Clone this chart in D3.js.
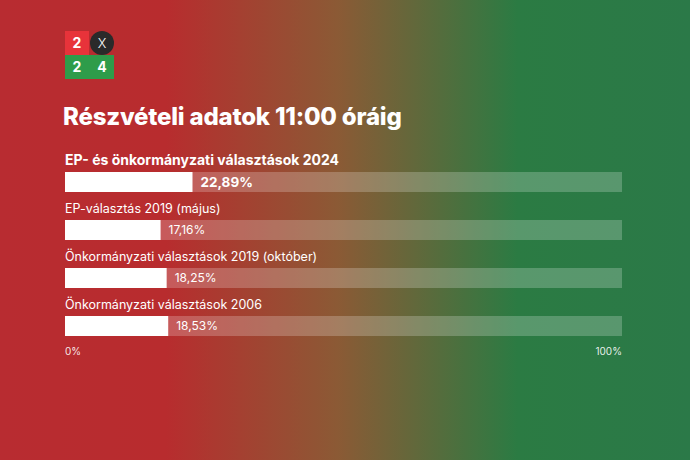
<!DOCTYPE html>
<html>
<head>
<meta charset="utf-8">
<script src="https://cdn.jsdelivr.net/npm/d3@7"></script>
<style>
  html, body { margin: 0; padding: 0; }
  body { width: 690px; height: 460px; overflow: hidden; }
  svg text { font-family: Inter, "Noto Sans", sans-serif; fill: #fff; }
</style>
</head>
<body>
<div id="container"></div>
<script>
// data
var categories = [
  "EP- és önkormányzati választások 2024",
  "EP-választás 2019 (május)",
  "Önkormányzati választások 2019 (október)",
  "Önkormányzati választások 2006"
];
var values = [22.89, 17.16, 18.25, 18.53];
var value_labels = ["22,89%", "17,16%", "18,25%", "18,53%"];
var tick_values = [0, 100];
var tick_labels = ["0%", "100%"];
var title = "Részvételi adatok 11:00 óráig";

var width = 690, height = 460;
var bar_left = 65, bar_right = 622;
var first_bar_y = 172, bar_step = 48, bar_h = 20;

var svg = d3.select("div#container")
  .append("svg")
  .attr("width", width)
  .attr("height", height);

// background gradient red -> green
var defs = svg.append("defs");
var grad = defs.append("linearGradient")
  .attr("id", "bg")
  .attr("x1", "0%").attr("x2", "100%")
  .attr("y1", "0%").attr("y2", "0%");
grad.append("stop").attr("offset", "0%").attr("stop-color", "#b82c31");
grad.append("stop").attr("offset", "24%").attr("stop-color", "#b82c2e");
grad.append("stop").attr("offset", "49%").attr("stop-color", "#8b5a35");
grad.append("stop").attr("offset", "75%").attr("stop-color", "#2b7b43");
grad.append("stop").attr("offset", "100%").attr("stop-color", "#2b7948");

svg.append("rect")
  .attr("width", width)
  .attr("height", height)
  .attr("fill", "url(#bg)");

// logo
var logo = svg.append("g").attr("transform", "translate(65,31)");
logo.append("rect").attr("x", 0).attr("y", 24).attr("width", 49).attr("height", 24).attr("fill", "#2e9c4a");
logo.append("rect").attr("x", 0).attr("y", 0).attr("width", 24).attr("height", 24).attr("fill", "#e8333a");
logo.append("circle").attr("cx", 37).attr("cy", 12).attr("r", 12).attr("fill", "#2a2a2a");
logo.append("text").attr("x", 12).attr("y", 17).attr("text-anchor", "middle")
  .style("font-size", "14px").style("font-weight", "700").text("2");
logo.append("text").attr("x", 37).attr("y", 17).attr("text-anchor", "middle")
  .style("font-size", "13px").style("font-weight", "300").text("X");
logo.append("text").attr("x", 12).attr("y", 41).attr("text-anchor", "middle")
  .style("font-size", "14px").style("font-weight", "700").text("2");
logo.append("text").attr("x", 37).attr("y", 41).attr("text-anchor", "middle")
  .style("font-size", "14px").style("font-weight", "700").text("4");

// title
svg.append("text")
  .attr("x", 63)
  .attr("y", 125)
  .style("font-size", "24px")
  .style("font-weight", "800")
  .style("letter-spacing", "-0.2px")
  .text(title);

// scales
var x = d3.scaleLinear().domain([0, 100]).range([bar_left, bar_right]);
var y = d3.scaleBand()
  .domain(categories)
  .range([first_bar_y, first_bar_y + bar_step * categories.length])
  .paddingInner(0);

var rows = svg.selectAll("g.row")
  .data(categories)
  .enter()
  .append("g")
  .attr("class", "row")
  .attr("transform", function(d) { return "translate(0," + y(d) + ")"; });

// background track
rows.append("rect")
  .attr("x", x(0))
  .attr("y", 0)
  .attr("width", x(100) - x(0))
  .attr("height", bar_h)
  .attr("fill", "#fff")
  .attr("fill-opacity", 0.22);

// value bar
rows.append("rect")
  .attr("x", x(0))
  .attr("y", 0)
  .attr("width", function(d, i) { return x(values[i]) - x(0); })
  .attr("height", bar_h)
  .attr("fill", "#fff");

// category label
rows.append("text")
  .attr("x", x(0))
  .attr("y", -7)
  .style("font-size", function(d, i) { return i === 0 ? "14px" : "12.5px"; })
  .style("font-weight", function(d, i) { return i === 0 ? "700" : "400"; })
  .text(function(d) { return d; });

// value label
rows.append("text")
  .attr("x", function(d, i) { return x(values[i]) + 8; })
  .attr("y", bar_h / 2)
  .attr("dy", "0.36em")
  .style("font-size", function(d, i) { return i === 0 ? "13.5px" : "12px"; })
  .style("font-weight", function(d, i) { return i === 0 ? "700" : "400"; })
  .text(function(d, i) { return value_labels[i]; });

// axis labels
svg.selectAll("text.tick")
  .data(tick_values)
  .enter()
  .append("text")
  .attr("class", "tick")
  .attr("x", function(d) { return x(d); })
  .attr("y", 355)
  .attr("text-anchor", function(d, i) { return i === 0 ? "start" : "end"; })
  .style("font-size", "10px")
  .style("fill-opacity", 0.9)
  .text(function(d, i) { return tick_labels[i]; });
</script>
</body>
</html>
